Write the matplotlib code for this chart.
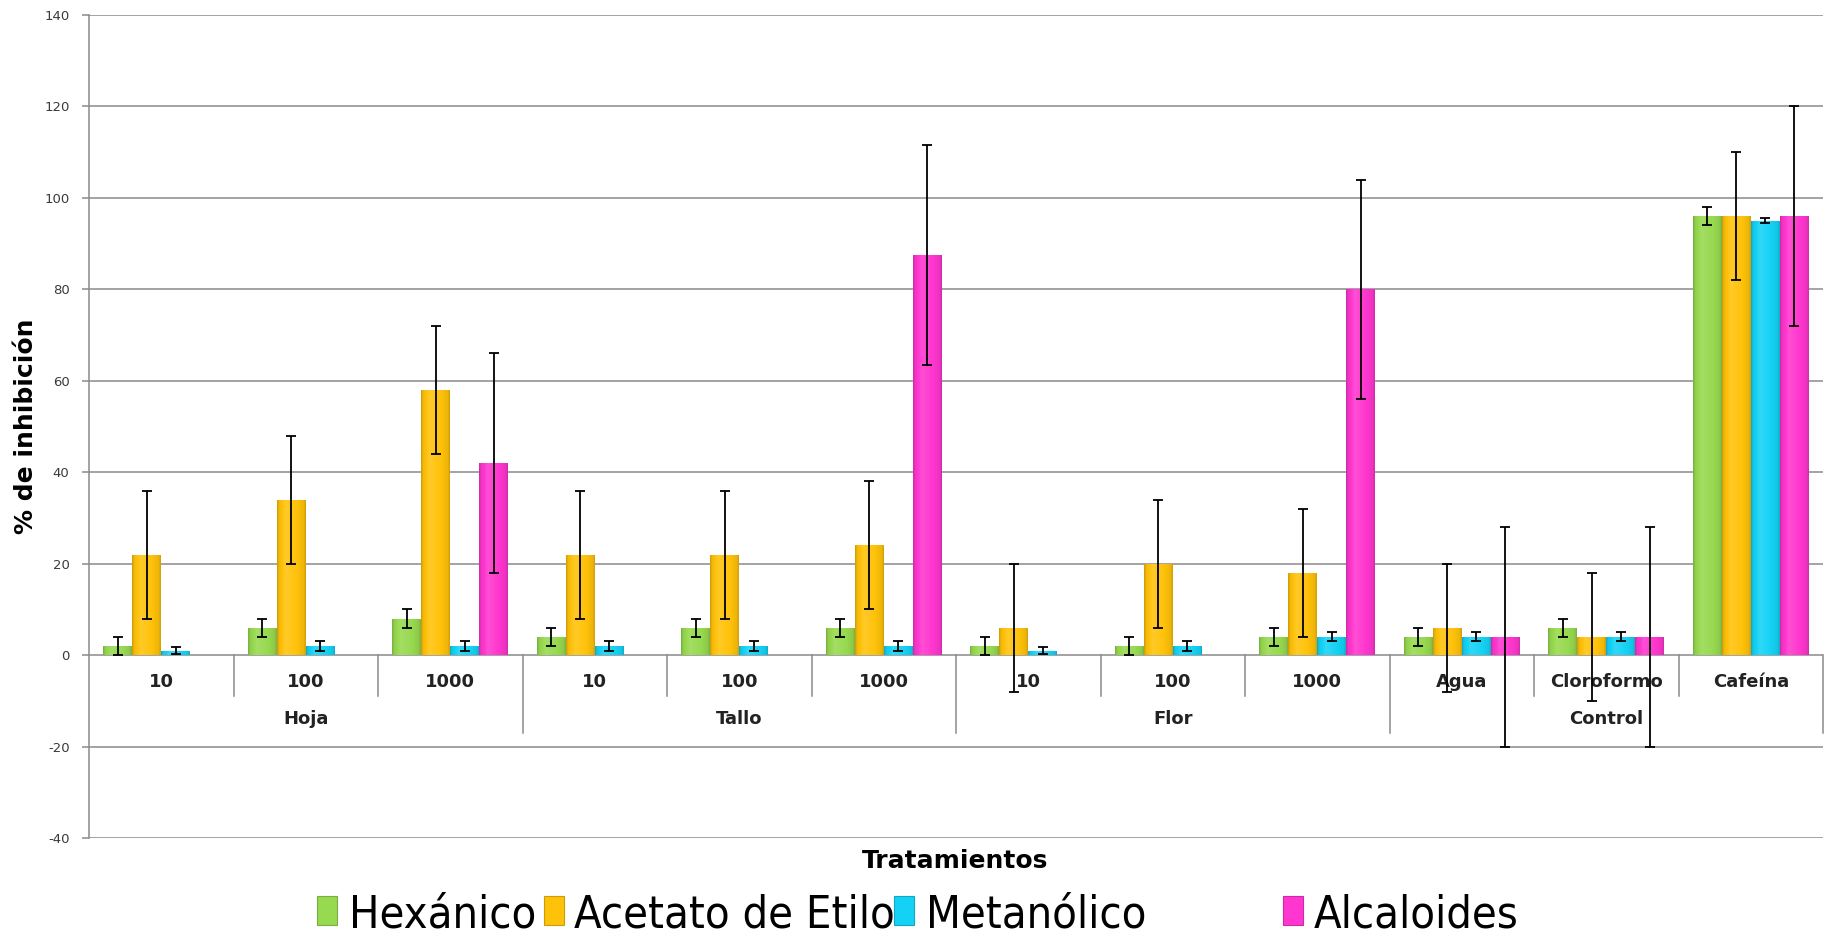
import numpy as np
import matplotlib
matplotlib.use("Agg")
import matplotlib.pyplot as plt
import matplotlib.transforms as mtransforms
from matplotlib import font_manager as fm
from matplotlib.colors import to_rgb
from matplotlib.patches import Rectangle

plt.rcParams["axes.unicode_minus"] = False

# ---- data -------------------------------------------------------------
categories = ["10", "100", "1000", "10", "100", "1000", "10", "100", "1000",
              "Agua", "Cloroformo", "Cafeína"]
groups = ["Hoja", "Tallo", "Flor", "Control"]
group_sizes = [3, 3, 3, 3]
series_names = ["Hexánico", "Acetato de Etilo", "Metanólico", "Alcaloides"]

hexanico = [2, 6, 8, 4, 6, 6, 2, 2, 4, 4, 6, 96]
acetato = [22, 34, 58, 22, 22, 24, 6, 20, 18, 6, 4, 96]
metanolico = [1, 2, 2, 2, 2, 2, 1, 2, 4, 4, 4, 95]
alcaloides = [np.nan, np.nan, 42, np.nan, np.nan, 87.5, np.nan, np.nan, 80, 4, 4, 96]

hexanico_err = [2, 2, 2, 2, 2, 2, 2, 2, 2, 2, 2, 2]
acetato_err = [14, 14, 14, 14, 14, 14, 14, 14, 14, 14, 14, 14]
metanolico_err = [0.8, 1, 1, 1, 1, 1, 0.8, 1, 1, 1, 1, 0.6]
alcaloides_err = [np.nan, np.nan, 24, np.nan, np.nan, 24, np.nan, np.nan, 24, 24, 24, 24]

yticks = [-40, -20, 0, 20, 40, 60, 80, 100, 120, 140]

colors = ["#97d94f", "#ffc20a", "#14d2f5", "#ff36cf"]

values = [hexanico, acetato, metanolico, alcaloides]
errors = [hexanico_err, acetato_err, metanolico_err, alcaloides_err]

# ---- figure -----------------------------------------------------------
W, H = 1827, 935
fig = plt.figure(figsize=(W / 100, H / 100), dpi=100)
ax_left, ax_right, ax_top, ax_bottom = 89, 1823, 15, 838
ax = fig.add_axes([ax_left / W, 1 - ax_bottom / H,
                   (ax_right - ax_left) / W, (ax_bottom - ax_top) / H])

grid_col = "#8a8a8a"
n = len(categories)
x = np.arange(n)
bw = 0.2
offsets = (np.arange(4) - 1.5) * bw


def shaded(c, s):
    c = np.array(to_rgb(c))
    if s >= 1:
        return c + (1 - c) * min(1, (s - 1) * 2.5)
    return c * s


t = np.linspace(0, 1, 64)
profile = np.interp(t, [0, 0.07, 0.3, 0.7, 0.93, 1],
                    [0.80, 0.95, 1.05, 1.0, 0.93, 0.82])

for k in range(4):
    bars = ax.bar(x + offsets[k], values[k], width=bw, color=colors[k],
                  edgecolor="none", zorder=3)
    grad = np.array([[shaded(colors[k], s) for s in profile]])
    for r in bars.patches:
        h = r.get_height()
        if not np.isfinite(h) or h == 0:
            continue
        x0, w = r.get_x(), r.get_width()
        im = ax.imshow(grad, extent=(x0, x0 + w, 0, h), aspect="auto",
                       zorder=3.1, interpolation="bilinear")
        im.set_clip_path(r)
    ax.errorbar(x + offsets[k], values[k], yerr=errors[k], fmt="none",
                ecolor="black", elinewidth=1.3, capsize=3.5, capthick=1.3,
                zorder=6)

ax.set_xlim(-0.5, n - 0.5)
ax.set_ylim(-40, 140)
ax.set_yticks(yticks)
ax.set_xticks([])
ax.yaxis.grid(True, color=grid_col, linewidth=1.1, zorder=0)
ax.set_axisbelow(True)
for s in ["top", "right", "bottom"]:
    ax.spines[s].set_visible(False)
ax.spines["left"].set_color(grid_col)
ax.spines["left"].set_linewidth(1.1)
ax.tick_params(axis="y", direction="out", length=5, width=1.1, color=grid_col,
               pad=9, labelsize=9.5, labelcolor="#3a3a3a")

# category axis: labels and separators below the zero line
trans = mtransforms.blended_transform_factory(ax.transData, ax.transAxes)
cat_y, grp_y = 0.1896, 0.1446
inner_bottom, group_bottom = 0.1725, 0.128
zero_frac = (0 - (-40)) / 180.0

for i, lab in enumerate(categories):
    ax.text(i, cat_y, lab, transform=trans, ha="center", va="center",
            fontsize=13, fontweight="bold", color="#222222", zorder=4)

bounds = np.cumsum([0] + group_sizes)
group_edges = set(bounds[1:])
for b in range(1, n + 1):
    bottom = group_bottom if b in group_edges else inner_bottom
    ax.plot([b - 0.5, b - 0.5], [zero_frac, bottom], transform=trans,
            color=grid_col, linewidth=1.1, zorder=2, clip_on=False)

for g, name in enumerate(groups):
    center = (bounds[g] + bounds[g + 1] - 1) / 2.0
    ax.text(center, grp_y, name, transform=trans, ha="center", va="center",
            fontsize=13, fontweight="bold", color="#222222", zorder=4)

# axis titles
fig.text(26 / W, 1 - 426 / H, "% de inhibición", rotation=90, ha="center",
         va="center", fontsize=18, fontweight="bold", color="black")
fig.text(955 / W, 1 - 861 / H, "Tratamientos", ha="center", va="center",
         fontsize=18, fontweight="bold", color="black")


# legend with a narrow face when one is installed
def narrow_font(size):
    best = None
    for f in fm.fontManager.ttflist:
        if f.name == "Liberation Sans Narrow" and f.style == "normal" and \
                f.weight in (400, "normal", "regular"):
            return fm.FontProperties(fname=f.fname, size=size)
        if f.name == "DejaVu Sans" and "ondensed" in f.fname and \
                "Bold" not in f.fname and "Oblique" not in f.fname:
            best = f.fname
    if best:
        return fm.FontProperties(fname=best, size=size * 0.83)
    return fm.FontProperties(family="Liberation Sans", size=size * 0.82)


leg_fp = narrow_font(39)
sq_left = [317, 544, 894, 1283]
txt_left = [349, 574, 926, 1314]
sq_w, sq_h = 20, 29
sq_top = 896
baseline = 928
for k, name in enumerate(series_names):
    fig.patches.append(Rectangle((sq_left[k] / W, 1 - (sq_top + sq_h) / H),
                                 sq_w / W, sq_h / H, transform=fig.transFigure,
                                 facecolor=colors[k],
                                 edgecolor=shaded(colors[k], 0.8),
                                 linewidth=0.8))
    fig.text(txt_left[k] / W, 1 - baseline / H, name, ha="left",
             va="baseline", fontproperties=leg_fp, color="black")

fig.savefig("out.png", dpi=100, facecolor="white")
